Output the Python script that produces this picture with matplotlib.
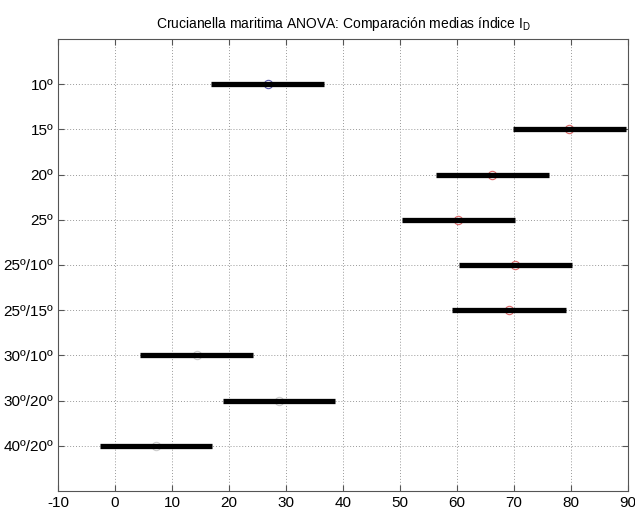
import numpy as np
import matplotlib
matplotlib.use('Agg')
import matplotlib.pyplot as plt

plt.rcParams['font.family'] = ['Liberation Sans', 'DejaVu Sans']
plt.rcParams['mathtext.fontset'] = 'custom'
plt.rcParams['mathtext.rm'] = 'Liberation Sans'
plt.rcParams['axes.unicode_minus'] = False

# group labels, means and comparison interval limits
groups = ['10º', '15º', '20º', '25º', '25º/10º', '25º/15º', '30º/10º', '30º/20º', '40º/20º']
means = [26.8, 79.6, 66.2, 60.1, 70.2, 69.1, 14.3, 28.8, 7.2]
lower = [16.8, 69.9, 56.3, 50.3, 60.3, 59.2, 4.3, 18.9, -2.7]
upper = [36.6, 89.6, 76.2, 70.1, 80.2, 79.1, 24.2, 38.6, 17.1]
status = ['sel', 'diff', 'diff', 'diff', 'diff', 'diff', 'same', 'same', 'same']

colors = {'sel': '#5555aa', 'diff': '#dd6666', 'same': '#cccccc'}

fig = plt.figure(figsize=(6.35, 5.09), dpi=100)
ax = fig.add_axes([58 / 635, 1 - 491 / 509, 570 / 635, 452 / 509])

ypos = np.arange(1, len(groups) + 1)
for y, m, lo, hi, s in zip(ypos, means, lower, upper, status):
    ax.plot([lo, hi], [y, y], color='black', lw=3.8, solid_capstyle='butt', zorder=3)
    ax.plot(m, y, 'o', mfc='none', mec=colors[s], ms=6, mew=0.8, zorder=2)

ax.set_xlim(-10, 90)
ax.set_ylim(len(groups) + 1, 0)
ax.set_xticks(np.arange(-10, 91, 10))
ax.set_yticks(ypos)
ax.set_yticklabels(groups)
ax.tick_params(labelsize=11, direction='in', top=True, right=True, length=4, color='#555555')
ax.grid(True, linestyle=(0, (1, 2)), color='#999999', lw=0.7)
for sp in ax.spines.values():
    sp.set_color('#555555')

ax.set_title('Crucianella maritima ANOVA: Comparación medias índice I$_\\mathrm{D}$', fontsize=10, pad=8)

fig.savefig('out.png', dpi=100)
